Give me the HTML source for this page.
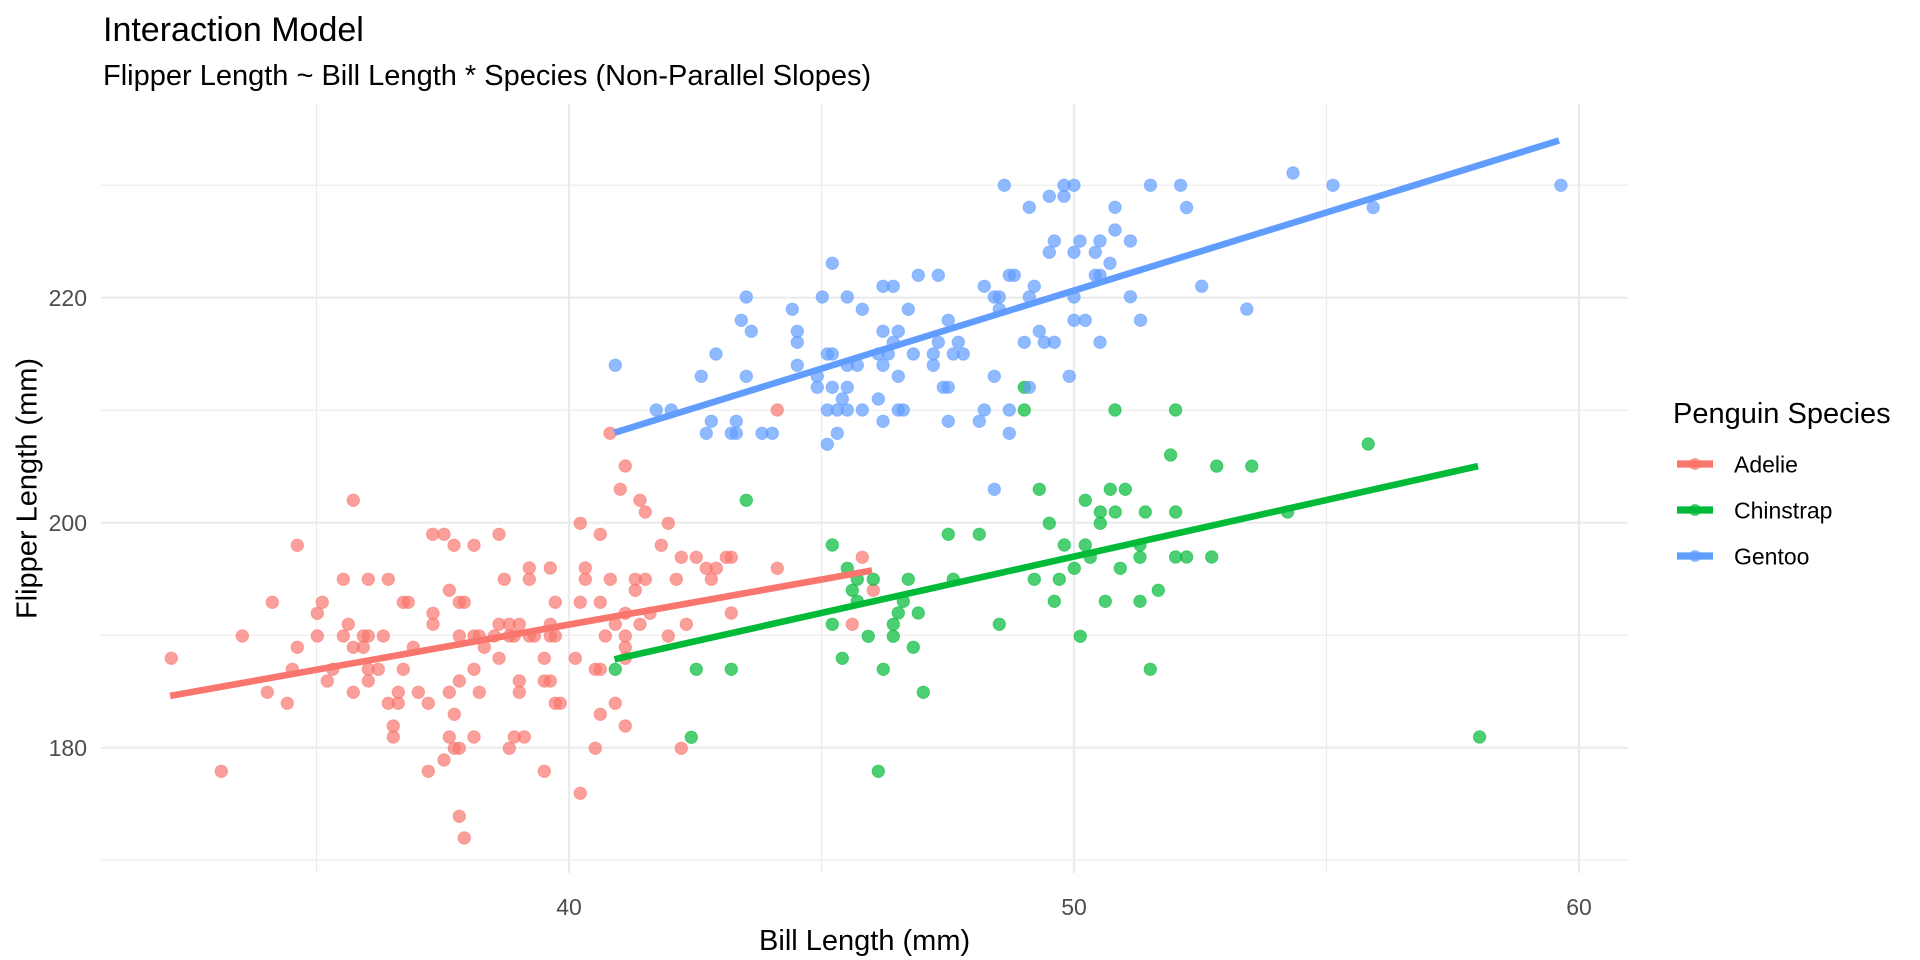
<!DOCTYPE html>
<html><head><meta charset="utf-8"><style>
html,body{margin:0;padding:0;background:#fff;}
svg{display:block;}
text{font-family:"Liberation Sans",Arial,sans-serif;}
</style></head><body>
<svg width="1920" height="960" viewBox="0 0 1920 960" xmlns="http://www.w3.org/2000/svg">
<rect width="1920" height="960" fill="#fff"/>
<!-- minor grid -->
<g stroke="#EBEBEB" stroke-width="1.1" fill="none">
<line x1="101" y1="860.2" x2="1628" y2="860.2"/>
<line x1="101" y1="635.2" x2="1628" y2="635.2"/>
<line x1="101" y1="410.2" x2="1628" y2="410.2"/>
<line x1="101" y1="185.2" x2="1628" y2="185.2"/>
<line x1="316.5" y1="104" x2="316.5" y2="873"/>
<line x1="821.5" y1="104" x2="821.5" y2="873"/>
<line x1="1326.5" y1="104" x2="1326.5" y2="873"/>
</g>
<!-- major grid -->
<g stroke="#EBEBEB" stroke-width="2.2" fill="none">
<line x1="101" y1="747.7" x2="1628" y2="747.7"/>
<line x1="101" y1="522.7" x2="1628" y2="522.7"/>
<line x1="101" y1="297.7" x2="1628" y2="297.7"/>
<line x1="569" y1="104" x2="569" y2="873"/>
<line x1="1074" y1="104" x2="1074" y2="873"/>
<line x1="1579" y1="104" x2="1579" y2="873"/>
</g>
<!-- Adelie points -->
<g fill="#F8766D" fill-opacity="0.7" stroke="#F8766D" stroke-opacity="0.55" stroke-width="1">
<circle cx="625.3" cy="466" r="6.2"/><circle cx="620.3" cy="489.3" r="6.2"/><circle cx="640" cy="500.3" r="6.2"/><circle cx="645.3" cy="512" r="6.2"/><circle cx="353.3" cy="500.3" r="6.2"/><circle cx="580.3" cy="523.3" r="6.2"/><circle cx="668.3" cy="523.3" r="6.2"/>
<circle cx="432.7" cy="534.3" r="6.2"/><circle cx="444" cy="534.3" r="6.2"/><circle cx="499" cy="534.3" r="6.2"/><circle cx="600.3" cy="534.3" r="6.2"/>
<circle cx="297.3" cy="545.3" r="6.2"/><circle cx="454" cy="545.3" r="6.2"/><circle cx="474" cy="545.3" r="6.2"/><circle cx="661.3" cy="545.3" r="6.2"/>
<circle cx="529.3" cy="568" r="6.2"/><circle cx="550.3" cy="568" r="6.2"/><circle cx="585.3" cy="568" r="6.2"/>
<circle cx="343.3" cy="579.3" r="6.2"/><circle cx="368.3" cy="579.3" r="6.2"/><circle cx="388.3" cy="579.3" r="6.2"/><circle cx="504.3" cy="579.3" r="6.2"/><circle cx="529.3" cy="579.3" r="6.2"/><circle cx="585.3" cy="579.3" r="6.2"/><circle cx="610.3" cy="579.3" r="6.2"/><circle cx="635.3" cy="579.3" r="6.2"/><circle cx="645.3" cy="579.3" r="6.2"/>
<circle cx="449.3" cy="590.3" r="6.2"/><circle cx="635.3" cy="590.3" r="6.2"/>
<circle cx="272.3" cy="602.3" r="6.2"/><circle cx="322.3" cy="602.3" r="6.2"/><circle cx="403.3" cy="602.3" r="6.2"/><circle cx="408.3" cy="602.3" r="6.2"/><circle cx="459.3" cy="602.3" r="6.2"/><circle cx="464.3" cy="602.3" r="6.2"/><circle cx="555.3" cy="602.3" r="6.2"/><circle cx="580.3" cy="602.3" r="6.2"/><circle cx="600.3" cy="602.3" r="6.2"/>
<circle cx="317.3" cy="613.3" r="6.2"/><circle cx="433" cy="613.3" r="6.2"/><circle cx="625.3" cy="613.3" r="6.2"/><circle cx="650" cy="613.3" r="6.2"/>
<circle cx="348.3" cy="624.3" r="6.2"/><circle cx="433" cy="624.3" r="6.2"/><circle cx="499" cy="624.3" r="6.2"/><circle cx="509.3" cy="624.3" r="6.2"/><circle cx="519.3" cy="624.3" r="6.2"/><circle cx="550.3" cy="624.3" r="6.2"/><circle cx="615.3" cy="624.3" r="6.2"/><circle cx="640" cy="624.3" r="6.2"/>
<circle cx="242.3" cy="636" r="6.2"/><circle cx="317.3" cy="636" r="6.2"/><circle cx="343.3" cy="636" r="6.2"/><circle cx="363.3" cy="636" r="6.2"/><circle cx="368.3" cy="636" r="6.2"/><circle cx="383.3" cy="636" r="6.2"/><circle cx="459.3" cy="636" r="6.2"/><circle cx="474" cy="636" r="6.2"/><circle cx="479.3" cy="636" r="6.2"/><circle cx="494.3" cy="636" r="6.2"/><circle cx="509.3" cy="636" r="6.2"/><circle cx="514.3" cy="636" r="6.2"/><circle cx="529.3" cy="636" r="6.2"/><circle cx="534.3" cy="636" r="6.2"/><circle cx="550.3" cy="636" r="6.2"/><circle cx="555.3" cy="636" r="6.2"/><circle cx="605.3" cy="636" r="6.2"/><circle cx="625.3" cy="636" r="6.2"/><circle cx="668.3" cy="636" r="6.2"/>
<circle cx="297.3" cy="647.3" r="6.2"/><circle cx="353.3" cy="647.3" r="6.2"/><circle cx="363.3" cy="647.3" r="6.2"/><circle cx="413.3" cy="647.3" r="6.2"/><circle cx="484.3" cy="647.3" r="6.2"/><circle cx="625.3" cy="647.3" r="6.2"/>
<circle cx="171.3" cy="658.3" r="6.2"/><circle cx="499" cy="658.3" r="6.2"/><circle cx="544.3" cy="658.3" r="6.2"/><circle cx="575.3" cy="658.3" r="6.2"/><circle cx="625.3" cy="658.3" r="6.2"/>
<circle cx="292.3" cy="669.3" r="6.2"/><circle cx="332.7" cy="669.3" r="6.2"/><circle cx="368.3" cy="669.3" r="6.2"/><circle cx="378.3" cy="669.3" r="6.2"/><circle cx="403.3" cy="669.3" r="6.2"/><circle cx="474" cy="669.3" r="6.2"/><circle cx="595.3" cy="669.3" r="6.2"/><circle cx="600.3" cy="669.3" r="6.2"/>
<circle cx="327.3" cy="681" r="6.2"/><circle cx="368.3" cy="681" r="6.2"/><circle cx="459.3" cy="681" r="6.2"/><circle cx="519.3" cy="681" r="6.2"/><circle cx="544.3" cy="681" r="6.2"/><circle cx="550.3" cy="681" r="6.2"/>
<circle cx="267.3" cy="692.3" r="6.2"/><circle cx="353.3" cy="692.3" r="6.2"/><circle cx="398.3" cy="692.3" r="6.2"/><circle cx="418.3" cy="692.3" r="6.2"/><circle cx="449.3" cy="692.3" r="6.2"/><circle cx="479.3" cy="692.3" r="6.2"/><circle cx="519.3" cy="692.3" r="6.2"/>
<circle cx="287.3" cy="703.3" r="6.2"/><circle cx="388.3" cy="703.3" r="6.2"/><circle cx="398.3" cy="703.3" r="6.2"/><circle cx="428.3" cy="703.3" r="6.2"/><circle cx="555.3" cy="703.3" r="6.2"/><circle cx="560.3" cy="703.3" r="6.2"/><circle cx="615.3" cy="703.3" r="6.2"/>
<circle cx="454.3" cy="714.3" r="6.2"/><circle cx="600.3" cy="714.3" r="6.2"/>
<circle cx="393.3" cy="726" r="6.2"/><circle cx="625.3" cy="726" r="6.2"/>
<circle cx="393.3" cy="737" r="6.2"/><circle cx="449.3" cy="737" r="6.2"/><circle cx="474" cy="737" r="6.2"/><circle cx="514.3" cy="737" r="6.2"/><circle cx="524.3" cy="737" r="6.2"/>
<circle cx="454.3" cy="748.3" r="6.2"/><circle cx="459.3" cy="748.3" r="6.2"/><circle cx="509.3" cy="748.3" r="6.2"/><circle cx="595.3" cy="748.3" r="6.2"/>
<circle cx="444" cy="760" r="6.2"/>
<circle cx="221.3" cy="771.3" r="6.2"/><circle cx="428.3" cy="771.3" r="6.2"/><circle cx="544.3" cy="771.3" r="6.2"/>
<circle cx="580.3" cy="793.3" r="6.2"/><circle cx="459.3" cy="816.3" r="6.2"/><circle cx="464.3" cy="838" r="6.2"/>
<circle cx="681.3" cy="557.3" r="6.2"/><circle cx="696.3" cy="557.3" r="6.2"/><circle cx="726.3" cy="557.3" r="6.2"/><circle cx="731.3" cy="557.3" r="6.2"/><circle cx="862.3" cy="557.3" r="6.2"/>
<circle cx="706.3" cy="568.3" r="6.2"/><circle cx="716.3" cy="568.3" r="6.2"/><circle cx="777.3" cy="568.3" r="6.2"/>
<circle cx="676.3" cy="579.3" r="6.2"/><circle cx="711.3" cy="579.3" r="6.2"/>
<circle cx="873.3" cy="590.3" r="6.2"/><circle cx="731.3" cy="613" r="6.2"/>
<circle cx="686.3" cy="624.3" r="6.2"/><circle cx="852.3" cy="624.3" r="6.2"/>
<circle cx="681.3" cy="748.3" r="6.2"/>
<circle cx="777.3" cy="410" r="6.2"/><circle cx="610" cy="433.3" r="6.2"/>
</g>
<!-- Chinstrap points -->
<g fill="#00BA38" fill-opacity="0.7" stroke="#00BA38" stroke-opacity="0.55" stroke-width="1">
<circle cx="615.3" cy="669.3" r="6.2"/>
<circle cx="746.3" cy="500.3" r="6.2"/>
<circle cx="1039.3" cy="489.3" r="6.2"/><circle cx="1110.3" cy="489.3" r="6.2"/><circle cx="1125.3" cy="489.3" r="6.2"/>
<circle cx="1085.3" cy="500.3" r="6.2"/>
<circle cx="1100.3" cy="512" r="6.2"/><circle cx="1115.3" cy="512" r="6.2"/><circle cx="1145.3" cy="512" r="6.2"/>
<circle cx="1049.3" cy="523.3" r="6.2"/><circle cx="1100.3" cy="523.3" r="6.2"/>
<circle cx="948.3" cy="534.3" r="6.2"/><circle cx="979.3" cy="534.3" r="6.2"/>
<circle cx="832.3" cy="545" r="6.2"/><circle cx="1064.3" cy="545" r="6.2"/><circle cx="1085.3" cy="545" r="6.2"/><circle cx="1140" cy="545" r="6.2"/>
<circle cx="1090.3" cy="557.3" r="6.2"/><circle cx="1140" cy="557.3" r="6.2"/>
<circle cx="847.3" cy="568.3" r="6.2"/><circle cx="1074.3" cy="568.3" r="6.2"/><circle cx="1120.3" cy="568.3" r="6.2"/>
<circle cx="857.3" cy="579.3" r="6.2"/><circle cx="873.3" cy="579.3" r="6.2"/><circle cx="908.3" cy="579.3" r="6.2"/><circle cx="953.3" cy="579.3" r="6.2"/><circle cx="1034.3" cy="579.3" r="6.2"/><circle cx="1059.3" cy="579.3" r="6.2"/>
<circle cx="852.3" cy="590.3" r="6.2"/><circle cx="1158.3" cy="590.3" r="6.2"/>
<circle cx="857.3" cy="601.3" r="6.2"/><circle cx="903.3" cy="601.3" r="6.2"/><circle cx="1054.3" cy="601.3" r="6.2"/><circle cx="1105.3" cy="601.3" r="6.2"/><circle cx="1140" cy="601.3" r="6.2"/>
<circle cx="898.3" cy="613" r="6.2"/><circle cx="918.3" cy="613" r="6.2"/>
<circle cx="832.3" cy="624.3" r="6.2"/><circle cx="893.3" cy="624.3" r="6.2"/><circle cx="999.3" cy="624.3" r="6.2"/>
<circle cx="868.3" cy="636.3" r="6.2"/><circle cx="893.3" cy="636.3" r="6.2"/><circle cx="1080.3" cy="636.3" r="6.2"/>
<circle cx="913.3" cy="647.3" r="6.2"/><circle cx="842.3" cy="658.3" r="6.2"/>
<circle cx="696.3" cy="669.3" r="6.2"/><circle cx="731.3" cy="669.3" r="6.2"/><circle cx="883.3" cy="669.3" r="6.2"/><circle cx="1150.3" cy="669.3" r="6.2"/>
<circle cx="923.3" cy="692.3" r="6.2"/><circle cx="691.3" cy="737.3" r="6.2"/><circle cx="878.3" cy="771.3" r="6.2"/>
<circle cx="1024.3" cy="387.3" r="6.2"/><circle cx="1024.3" cy="410" r="6.2"/><circle cx="1115" cy="410" r="6.2"/>
<circle cx="1175.6" cy="410" r="6.2"/><circle cx="1368.2" cy="444" r="6.2"/><circle cx="1170.6" cy="455" r="6.2"/><circle cx="1216.7" cy="466.1" r="6.2"/><circle cx="1251.8" cy="466.1" r="6.2"/>
<circle cx="1175.6" cy="512" r="6.2"/><circle cx="1287.6" cy="512" r="6.2"/>
<circle cx="1175.6" cy="557" r="6.2"/><circle cx="1186.6" cy="557" r="6.2"/><circle cx="1211.7" cy="557" r="6.2"/>
<circle cx="1479.6" cy="737" r="6.2"/>
</g>
<!-- Gentoo points -->
<g fill="#619CFF" fill-opacity="0.7" stroke="#619CFF" stroke-opacity="0.55" stroke-width="1">
<circle cx="994.3" cy="489.3" r="6.2"/>
<circle cx="1004.3" cy="185.3" r="6.2"/><circle cx="1064" cy="185.3" r="6.2"/><circle cx="1074" cy="185.3" r="6.2"/>
<circle cx="1049.3" cy="196.3" r="6.2"/><circle cx="1064" cy="196.3" r="6.2"/>
<circle cx="1029.3" cy="207.3" r="6.2"/><circle cx="1115" cy="207.3" r="6.2"/>
<circle cx="1115" cy="230" r="6.2"/>
<circle cx="1054.3" cy="241" r="6.2"/><circle cx="1080" cy="241" r="6.2"/><circle cx="1100" cy="241" r="6.2"/>
<circle cx="1049.3" cy="252.3" r="6.2"/><circle cx="1074" cy="252.3" r="6.2"/><circle cx="1095.3" cy="252.3" r="6.2"/>
<circle cx="832.3" cy="263.3" r="6.2"/><circle cx="1110" cy="263.3" r="6.2"/>
<circle cx="918.3" cy="275.3" r="6.2"/><circle cx="938.3" cy="275.3" r="6.2"/><circle cx="1009.3" cy="275.3" r="6.2"/><circle cx="1014.3" cy="275.3" r="6.2"/><circle cx="1095.3" cy="275.3" r="6.2"/><circle cx="1100" cy="275.3" r="6.2"/>
<circle cx="883" cy="286.3" r="6.2"/><circle cx="893.3" cy="286.3" r="6.2"/><circle cx="984.3" cy="286.3" r="6.2"/><circle cx="1034.3" cy="286.3" r="6.2"/>
<circle cx="746.3" cy="297" r="6.2"/><circle cx="822.3" cy="297" r="6.2"/><circle cx="847.3" cy="297" r="6.2"/><circle cx="994.3" cy="297" r="6.2"/><circle cx="999.3" cy="297" r="6.2"/><circle cx="1029.3" cy="297" r="6.2"/><circle cx="1074" cy="297" r="6.2"/>
<circle cx="792.3" cy="309.3" r="6.2"/><circle cx="862.3" cy="309.3" r="6.2"/><circle cx="908.3" cy="309.3" r="6.2"/><circle cx="999.3" cy="309.3" r="6.2"/>
<circle cx="741.3" cy="320.3" r="6.2"/><circle cx="948.3" cy="320.3" r="6.2"/><circle cx="1074" cy="320.3" r="6.2"/><circle cx="1085.3" cy="320.3" r="6.2"/>
<circle cx="751.3" cy="331.3" r="6.2"/><circle cx="797.3" cy="331.3" r="6.2"/><circle cx="883" cy="331.3" r="6.2"/><circle cx="898.3" cy="331.3" r="6.2"/><circle cx="1039.3" cy="331.3" r="6.2"/>
<circle cx="797.3" cy="342.3" r="6.2"/><circle cx="893.3" cy="342.3" r="6.2"/><circle cx="938.3" cy="342.3" r="6.2"/><circle cx="958.3" cy="342.3" r="6.2"/><circle cx="1024.3" cy="342.3" r="6.2"/><circle cx="1044.3" cy="342.3" r="6.2"/><circle cx="1054.3" cy="342.3" r="6.2"/><circle cx="1100" cy="342.3" r="6.2"/>
<circle cx="716" cy="354" r="6.2"/><circle cx="827.3" cy="354" r="6.2"/><circle cx="832.3" cy="354" r="6.2"/><circle cx="878.3" cy="354" r="6.2"/><circle cx="888.3" cy="354" r="6.2"/><circle cx="913.3" cy="354" r="6.2"/><circle cx="933.3" cy="354" r="6.2"/><circle cx="953.3" cy="354" r="6.2"/><circle cx="963.3" cy="354" r="6.2"/>
<circle cx="615.3" cy="365.3" r="6.2"/><circle cx="797.3" cy="365.3" r="6.2"/><circle cx="847.3" cy="365.3" r="6.2"/><circle cx="857.3" cy="365.3" r="6.2"/><circle cx="883" cy="365.3" r="6.2"/><circle cx="933.3" cy="365.3" r="6.2"/>
<circle cx="701.3" cy="376.3" r="6.2"/><circle cx="746.3" cy="376.3" r="6.2"/><circle cx="817.3" cy="376.3" r="6.2"/><circle cx="898.3" cy="376.3" r="6.2"/><circle cx="994.3" cy="376.3" r="6.2"/><circle cx="1069.3" cy="376.3" r="6.2"/>
<circle cx="817.3" cy="387.3" r="6.2"/><circle cx="832.3" cy="387.3" r="6.2"/><circle cx="847.3" cy="387.3" r="6.2"/><circle cx="943.3" cy="387.3" r="6.2"/><circle cx="948.3" cy="387.3" r="6.2"/><circle cx="1029.3" cy="387.3" r="6.2"/>
<circle cx="842.3" cy="399" r="6.2"/><circle cx="878.3" cy="399" r="6.2"/>
<circle cx="656.3" cy="410" r="6.2"/><circle cx="671.3" cy="410" r="6.2"/><circle cx="827.3" cy="410" r="6.2"/><circle cx="837.3" cy="410" r="6.2"/><circle cx="847.3" cy="410" r="6.2"/><circle cx="862.3" cy="410" r="6.2"/><circle cx="898.3" cy="410" r="6.2"/><circle cx="903.3" cy="410" r="6.2"/><circle cx="984.3" cy="410" r="6.2"/><circle cx="1009.3" cy="410" r="6.2"/>
<circle cx="711.3" cy="421.3" r="6.2"/><circle cx="736.3" cy="421.3" r="6.2"/><circle cx="883" cy="421.3" r="6.2"/><circle cx="948.3" cy="421.3" r="6.2"/><circle cx="979.3" cy="421.3" r="6.2"/>
<circle cx="706.3" cy="433.3" r="6.2"/><circle cx="731.3" cy="433.3" r="6.2"/><circle cx="736.3" cy="433.3" r="6.2"/><circle cx="762" cy="433.3" r="6.2"/><circle cx="772.3" cy="433.3" r="6.2"/><circle cx="837.3" cy="433.3" r="6.2"/><circle cx="1009.3" cy="433.3" r="6.2"/>
<circle cx="827.3" cy="444.3" r="6.2"/>
<circle cx="1293" cy="173" r="6.2"/><circle cx="1150.5" cy="185.3" r="6.2"/><circle cx="1180.6" cy="185.3" r="6.2"/><circle cx="1333" cy="185.3" r="6.2"/><circle cx="1560.9" cy="185.3" r="6.2"/>
<circle cx="1186.6" cy="207.5" r="6.2"/><circle cx="1373.2" cy="207.5" r="6.2"/><circle cx="1130.4" cy="241" r="6.2"/>
<circle cx="1201.7" cy="286.2" r="6.2"/><circle cx="1130.4" cy="296.8" r="6.2"/><circle cx="1246.8" cy="309.1" r="6.2"/><circle cx="1140.5" cy="320.2" r="6.2"/>
</g>
<!-- fitted lines -->
<g stroke-width="6.6" stroke-linecap="butt" fill="none">
<line x1="170.1" y1="695.9" x2="872" y2="570.5" stroke="#F8766D"/>
<line x1="614.5" y1="659.3" x2="1478" y2="466.1" stroke="#00BA38"/>
<line x1="614.5" y1="432.7" x2="1559" y2="140.5" stroke="#619CFF"/>
</g>
<!-- axis labels -->
<g font-size="23" fill="#4D4D4D">
<text x="87" y="756" text-anchor="end">180</text>
<text x="87" y="531" text-anchor="end">200</text>
<text x="87" y="306" text-anchor="end">220</text>
<text x="569" y="915" text-anchor="middle">40</text>
<text x="1074" y="915" text-anchor="middle">50</text>
<text x="1579" y="915" text-anchor="middle">60</text>
</g>
<text x="864.6" y="950" font-size="29" text-anchor="middle" fill="#000">Bill Length (mm)</text>
<text transform="translate(36.7,488.5) rotate(-90)" font-size="29" text-anchor="middle" fill="#000">Flipper Length (mm)</text>
<!-- titles -->
<text x="103" y="41" font-size="34" fill="#000">Interaction Model</text>
<text x="103" y="85" font-size="29" fill="#000">Flipper Length ~ Bill Length * Species (Non-Parallel Slopes)</text>
<!-- legend -->
<text x="1673" y="423" font-size="29" fill="#000">Penguin Species</text>
<g stroke-width="7.2">
<line x1="1677" y1="464" x2="1713" y2="464" stroke="#F8766D"/>
<line x1="1677" y1="510" x2="1713" y2="510" stroke="#00BA38"/>
<line x1="1677" y1="556" x2="1713" y2="556" stroke="#619CFF"/>
</g>
<circle cx="1695" cy="464" r="6" fill="#F8766D" fill-opacity="0.7"/>
<circle cx="1695" cy="510" r="6" fill="#00BA38" fill-opacity="0.7"/>
<circle cx="1695" cy="556" r="6" fill="#619CFF" fill-opacity="0.7"/>
<g font-size="23" fill="#000">
<text x="1734" y="472.5">Adelie</text>
<text x="1734" y="518.5">Chinstrap</text>
<text x="1734" y="564.5">Gentoo</text>
</g>
</svg>
</body></html>
